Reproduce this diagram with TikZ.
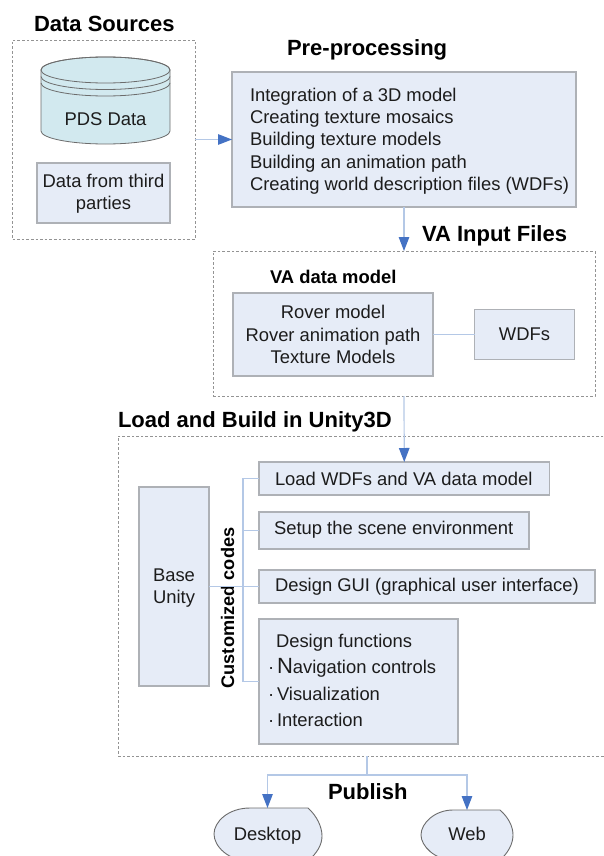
\documentclass[tikz,border=0pt]{standalone}
\usepackage{fontspec}
\setmainfont{Liberation Sans}
\usetikzlibrary{arrows.meta}
\definecolor{boxfill}{HTML}{E6ECF7}
\definecolor{boxline}{HTML}{AEB1B6}
\definecolor{cylfill}{HTML}{D2E9EF}
\definecolor{connline}{HTML}{B4C8E6}
\definecolor{tipblue}{HTML}{4472C4}
\definecolor{ink}{HTML}{1C1C1C}
\tikzset{
  x=1pt,y=-1pt,
  every node/.style={inner sep=0pt,outer sep=0pt,text=ink},
  body/.style={font=\fontsize{18.4}{22.3}\selectfont,align=center},
  bodyleft/.style={font=\fontsize{18.4}{22.3}\selectfont,align=left,anchor=west},
  titletext/.style={font=\fontsize{22}{26}\selectfont\bfseries,anchor=west,text=black},
  subtitle/.style={font=\fontsize{18.4}{22}\selectfont\bfseries,anchor=west,text=black},
  panel/.style={draw=boxline,fill=boxfill,line width=1.1pt},
  dashpanel/.style={draw=gray!85,line width=0.7pt,dash pattern=on 2.6pt off 2pt},
  shapeline/.style={draw=gray!85!black,line width=0.8pt},
  conn/.style={draw=connline,line width=1.2pt},
  arrowconn/.style={conn,-{Triangle[length=14pt,width=10.5pt,color=tipblue]}},
}
\begin{document}
\begin{tikzpicture}
\useasboundingbox (0,0) rectangle (604,856);
\clip (0,0) rectangle (604,856);
\fill[white] (0,0) rectangle (604,856);

% titles
\node[titletext] (tsrc) at (34,23.5) {Data Sources};
\node[titletext] (tpre) at (287,49.5) {Pre-processing};
\node[titletext] (tva) at (422,235.5) {VA Input Files};
\node[titletext] (tload) at (118,421.5) {Load and Build in Unity3D};
\node[titletext] (tpub) at (328,792) {Publish};

% dashed containers
\node[dashpanel,draw,minimum width=182.5pt,minimum height=199pt] (src) at (103.75,139.5) {};
\node[dashpanel,draw,minimum width=382pt,minimum height=145pt] (va) at (404,323.5) {};
\node[dashpanel,draw,minimum width=522pt,minimum height=320pt] (build) at (379,596) {};

% cylinder
\path[fill=cylfill,shapeline] (41,70) -- (41,131)
  arc[start angle=180,end angle=360,x radius=64.5pt,y radius=13pt]
  -- (170,70) arc[start angle=0,end angle=180,x radius=64.5pt,y radius=13pt] -- cycle;
\path[shapeline] (105.5,70) ellipse[x radius=64.5pt,y radius=13pt];
\path[shapeline] (41,76.5) arc[start angle=180,end angle=360,x radius=64.5pt,y radius=13pt];
\path[shapeline] (41,83) arc[start angle=180,end angle=360,x radius=64.5pt,y radius=13pt];
\node[body] (pds) at (105.5,119) {PDS Data};

% boxes
\node[panel,minimum width=133pt,minimum height=60pt] (third) at (103.5,193) {};
\node[body] (thirdt) at (103.5,194) {Data from third\\parties};
\node[panel,minimum width=344pt,minimum height=135pt] (pre) at (404,139.5) {};
\node[bodyleft] (pretext) at (250,141) {Integration of a 3D model\\Creating texture mosaics\\Building texture models\\Building an animation path\\Creating world description files (WDFs)};
\node[subtitle] (tmodel) at (270,276.5) {VA data model};
\node[panel,body,minimum width=200pt,minimum height=83pt] (rover) at (333,334.5) {Rover model\\Rover animation path\\Texture Models};
\node[panel,body,minimum width=100pt,minimum height=50pt] (wdf) at (524.5,334.5) {WDFs};
\node[panel,minimum width=70pt,minimum height=199pt] (base) at (174,586.5) {};
\node[body] (baset) at (174,588) {Base\\Unity};
\node[panel,minimum width=290.5pt,minimum height=33pt] (loadb) at (404.25,478.5) {};
\node[bodyleft] (loadt) at (275,479) {Load WDFs and VA data model};
\node[panel,minimum width=270pt,minimum height=37pt] (setup) at (394,530.5) {};
\node[bodyleft] (setupt) at (274,530) {Setup the scene environment};
\node[panel,minimum width=336pt,minimum height=33pt] (gui) at (427,586.5) {};
\node[bodyleft] (guit) at (275,586.5) {Design GUI (graphical user interface)};
\node[panel,minimum width=199pt,minimum height=125pt] (func) at (358.5,681.5) {};
\node[bodyleft,font=\fontsize{18.4}{26.2}\selectfont] (funct) at (268,680.5) {\hspace*{8pt}Design functions\\
  \makebox[9pt][l]{·}{\fontsize{22}{26.2}\selectfont N}avigation controls\\
  \makebox[9pt][l]{·}Visualization\\
  \makebox[9pt][l]{·}Interaction};
\node[font=\fontsize{18.2}{22}\selectfont\bfseries,rotate=90,text=black] (codes) at (227.5,608) {Customized codes};

% publish shapes
\path[panel,draw=gray!85!black,line width=0.9pt] (250,808) -- (308,808)
  .. controls (317,816) and (322,827) .. (322,836)
  .. controls (322,845) and (317,853) .. (308,861) -- (250,861)
  .. controls (228,861) and (214,846) .. (214,834)
  .. controls (214,822) and (228,808) .. (250,808) -- cycle;
\path[panel,draw=gray!85!black,line width=0.9pt] (453,810) -- (500,810)
  .. controls (508,817) and (513,826) .. (513,835)
  .. controls (513,844) and (508,853) .. (500,860) -- (453,860)
  .. controls (435,860) and (421,846) .. (421,835)
  .. controls (421,823) and (435,810) .. (453,810) -- cycle;
\node[body,minimum height=55pt] (desk) at (267.5,835.5) {Desktop};
\node[body,minimum height=48pt] (web) at (467,834) {Web};

% connectors
\coordinate (bus) at (243,586.5);
\coordinate (stem) at (367,756);
\coordinate (fork) at (367,775);
\draw[arrowconn] (src.east) -- (pre.west);
\draw[arrowconn] (pre.south) -- (va.north);
\draw[conn] (rover.east) -- (wdf.west);
\draw[arrowconn] (va.south) -- (loadb.north);
\draw[conn] (base.east) -- (gui.west);
\draw[conn] (loadb.west) -| (bus) |- (func.west);
\draw[conn] (setup.west) -| (bus);
\draw[conn] (stem) -- (fork);
\draw[arrowconn] (fork) -| (desk.north);
\draw[arrowconn] (fork) -| (web.north);
\end{tikzpicture}
\end{document}
